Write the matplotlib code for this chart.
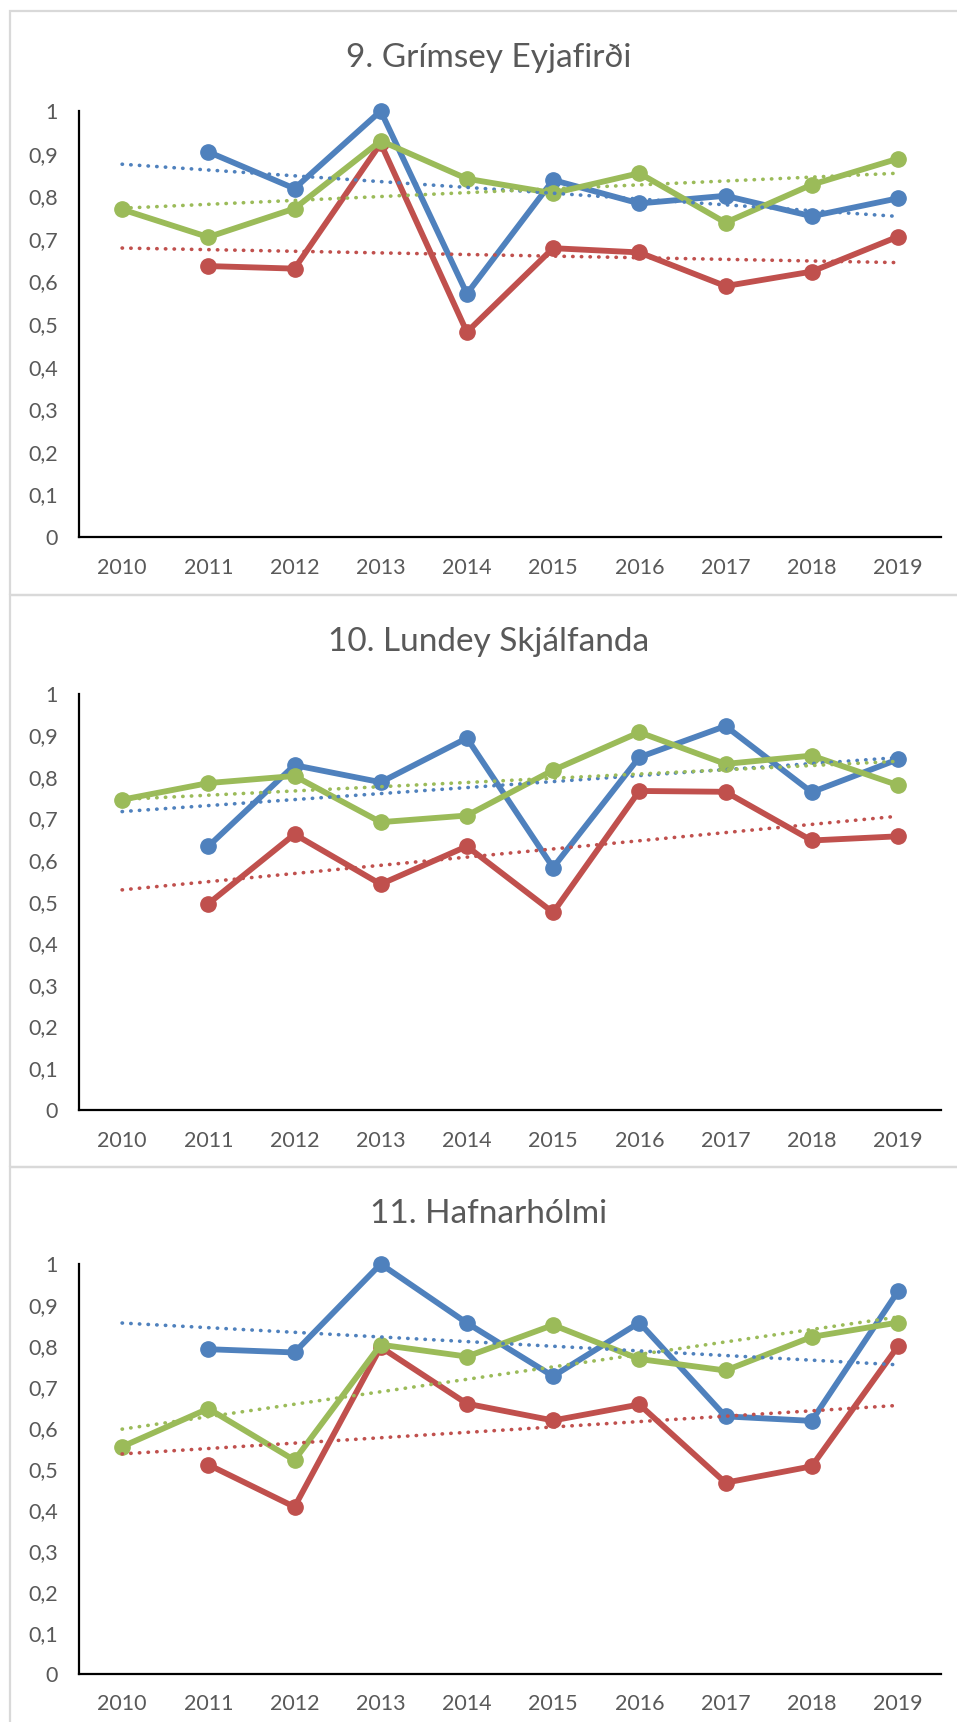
import numpy as np
import matplotlib
matplotlib.use("Agg")
import matplotlib.pyplot as plt
from matplotlib.patches import Rectangle

plt.rcParams['font.family'] = ['Lato', 'DejaVu Sans']

years = ["2010", "2011", "2012", "2013", "2014", "2015", "2016", "2017", "2018", "2019"]
nan = np.nan

titles = ["9. Grímsey Eyjafirði", "10. Lundey Skjálfanda", "11. Hafnarhólmi"]

grimsey_blue = [nan, 0.904, 0.818, 1.0, 0.571, 0.838, 0.783, 0.801, 0.753, 0.795]
grimsey_red = [nan, 0.636, 0.630, 0.924, 0.481, 0.678, 0.668, 0.589, 0.623, 0.705]
grimsey_green = [0.769, 0.704, 0.771, 0.930, 0.841, 0.807, 0.854, 0.738, 0.827, 0.888]

lundey_blue = [nan, 0.633, 0.828, 0.787, 0.893, 0.582, 0.847, 0.922, 0.763, 0.842]
lundey_red = [nan, 0.495, 0.662, 0.542, 0.633, 0.474, 0.766, 0.764, 0.647, 0.657]
lundey_green = [0.745, 0.785, 0.802, 0.691, 0.707, 0.816, 0.907, 0.831, 0.851, 0.780]

hafnar_blue = [nan, 0.792, 0.784, 1.0, 0.856, 0.726, 0.857, 0.628, 0.617, 0.933]
hafnar_red = [nan, 0.510, 0.407, 0.797, 0.659, 0.618, 0.657, 0.466, 0.506, 0.799]
hafnar_green = [0.554, 0.647, 0.521, 0.803, 0.774, 0.851, 0.768, 0.740, 0.822, 0.857]

panels = [
    (grimsey_blue, grimsey_red, grimsey_green),
    (lundey_blue, lundey_red, lundey_green),
    (hafnar_blue, hafnar_red, hafnar_green),
]
colors = ["#4F81BD", "#C0504D", "#9BBB59"]

W, H = 957, 1722
fig = plt.figure(figsize=(W / 100, H / 100), dpi=100)

# pixel layout: (axes top, axes bottom, title baseline, frame top, frame bottom)
layout = [
    (111, 537, 67, 11.5, 595),
    (693.6, 1109.7, 651, 595, 1167),
    (1264, 1673.6, 1223, 1167, 1730),
]
ax_left, ax_right = 79, 941
text_col = "#595959"

x = np.arange(len(years))
for (top, bot, tbase, ftop, fbot), series, title in zip(layout, panels, titles):
    fig.patches.append(Rectangle((10 / W, 1 - fbot / H), 960 / W, (fbot - ftop) / H,
                                 transform=fig.transFigure, fill=False,
                                 edgecolor="#d9d9d9", lw=1.6, zorder=0))
    ax = fig.add_axes([ax_left / W, 1 - bot / H, (ax_right - ax_left) / W, (bot - top) / H])
    for vals, c in zip(series, colors):
        ax.plot(x, vals, color=c, lw=4.2, marker="o", markersize=11,
                solid_capstyle="round", solid_joinstyle="round", clip_on=False, zorder=3)
    for vals, c in zip(series, colors):
        v = np.array(vals)
        ok = ~np.isnan(v)
        k, b = np.polyfit(x[ok], v[ok], 1)
        ax.plot(x, k * x + b, color=c, lw=2.6, linestyle=(0, (0.1, 2.3)),
                dash_capstyle="round", zorder=4)
    ax.set_xlim(-0.5, 9.5)
    ax.set_ylim(0, 1)
    ax.set_xticks(x)
    ax.set_xticklabels(years)
    yt = np.round(np.arange(0, 1.01, 0.1), 1)
    ax.set_yticks(yt)
    ax.set_yticklabels(["0", "0,1", "0,2", "0,3", "0,4", "0,5", "0,6", "0,7", "0,8", "0,9", "1"])
    ax.tick_params(axis="x", length=0, pad=15, labelsize=15.5, labelcolor=text_col)
    ax.tick_params(axis="y", length=0, pad=15, labelsize=15.5, labelcolor=text_col)
    for s in ["top", "right"]:
        ax.spines[s].set_visible(False)
    for s in ["left", "bottom"]:
        ax.spines[s].set_linewidth(1.6)
        ax.spines[s].set_color("black")
    fig.text(489 / W, 1 - tbase / H, title, ha="center", va="baseline",
             fontsize=24, color=text_col)

fig.savefig("out.png", dpi=100)
